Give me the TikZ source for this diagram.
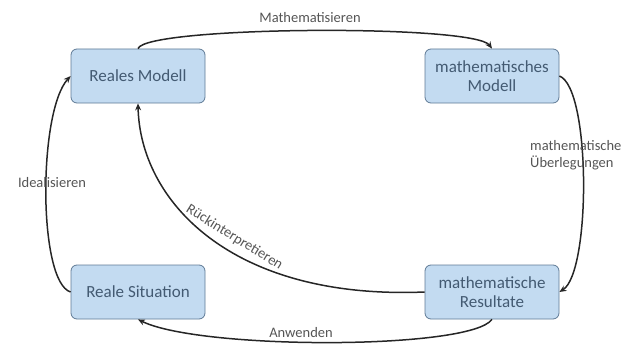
\documentclass[tikz,border=0pt]{standalone}
\usepackage{fontspec}
\setmainfont{Carlito}
\usepackage{xcolor}
\usetikzlibrary{arrows.meta}
\definecolor{boxfill}{HTML}{C3DBF1}
\definecolor{boxline}{HTML}{5F7A95}
\definecolor{boxtext}{HTML}{435A72}
\definecolor{labtext}{HTML}{555555}
\definecolor{arrline}{HTML}{262626}

\begin{document}
\begin{tikzpicture}[x=1pt,y=-1pt,>={Stealth[length=7pt,width=6pt]},
  step box/.style={draw=boxline,line width=0.8pt,rounded corners=6pt,fill=boxfill,
    text=boxtext,minimum width=134pt,minimum height=54pt,align=center,
    font=\fontsize{17}{19}\selectfont,inner sep=2pt},
  lab/.style={text=labtext,font=\fontsize{14.5}{17}\selectfont,inner sep=1pt},
  flow/.style={->,draw=arrline,line width=1.5pt}]
  \useasboundingbox (0,0) rectangle (640,345);
  % the four stations of the cycle
  \node[step box] (rm) at (138,76) {Reales Modell};
  \node[step box] (mm) at (492,76) {mathematisches\\Modell};
  \node[step box] (rs) at (138,292) {Reale Situation};
  \node[step box] (mr) at (492,292) {mathematische\\Resultate};
  % arrows round the cycle
  \draw[flow] (rm.north) .. controls (146,26) and (474,24) .. (mm.north);
  \node[lab] (l1) at (310,18) {Mathematisieren};
  \draw[flow] (mm.east) .. controls (591,88) and (591,272) .. (mr.east);
  \node[lab,anchor=west,align=left] (l2) at (529,155) {mathematische\\Überlegungen};
  \draw[flow] (mr.south) .. controls (470,350) and (200,350) .. (rs.south);
  \node[lab] (l3) at (301,333) {Anwenden};
  \draw[flow] (rs.west) .. controls (38,282) and (38,112) .. (rm.west);
  \node[lab] (l4) at (52,183) {Idealisieren};
  % back from the results to the real model
  \draw[flow] (mr.west) .. controls (230,300) and (140,200) .. (rm.south)
    node[lab,sloped,above=6pt,pos=0.44] (l5) {Rückinterpretieren};
\end{tikzpicture}
\end{document}
